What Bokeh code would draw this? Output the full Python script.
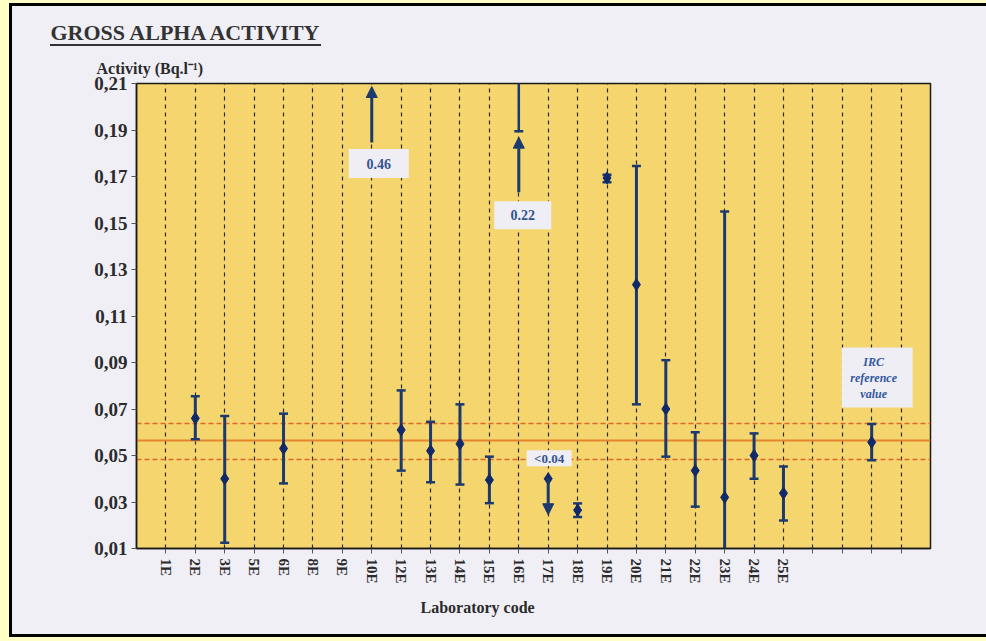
import math
from bokeh.plotting import figure
from bokeh.models import Range1d, FixedTicker, CustomJSTickFormatter, Arrow, NormalHead, Title
from bokeh.embed import file_html
from bokeh.resources import INLINE
from bokeh.core.properties import value

# ---------------- data ----------------
lab_codes = ["1E", "2E", "3E", "5E", "6E", "8E", "9E", "10E", "12E", "13E", "14E",
             "15E", "16E", "17E", "18E", "19E", "20E", "21E", "22E", "23E", "24E", "25E",
             "", "", "", ""]
irc_slot = 25  # position of the IRC reference value on the axis

meas_labs = ["2E", "3E", "6E", "12E", "13E", "14E", "15E", "18E", "19E", "20E",
             "21E", "22E", "23E", "24E", "25E"]
meas_val = [0.066, 0.040, 0.053, 0.061, 0.052, 0.055, 0.0395, 0.0265, 0.1694, 0.1235,
            0.070, 0.0435, 0.032, 0.050, 0.0338]
meas_low = [0.057, 0.0125, 0.038, 0.0435, 0.0385, 0.0375, 0.0295, 0.0235, 0.1675, 0.072,
            0.0495, 0.028, 0.0, 0.040, 0.022]
meas_high = [0.0755, 0.067, 0.068, 0.078, 0.0645, 0.072, 0.0495, 0.0294, 0.1708, 0.1745,
             0.091, 0.060, 0.155, 0.0595, 0.0453]

irc_val, irc_low, irc_high = 0.0557, 0.048, 0.0636
ref_value, ref_low, ref_high = 0.0565, 0.0484, 0.0638

off_labs = ["10E", "16E"]          # values above the scale
off_vals = [0.46, 0.22]
off_low = [None, 0.1895]
lt_lab, lt_val = "17E", 0.04       # "less than" result

y_ticks = [0.01, 0.03, 0.05, 0.07, 0.09, 0.11, 0.13, 0.15, 0.17, 0.19, 0.21]

# ---------------- styles ----------------
NAVY = "#1C3A6E"
TXT = "#2b2b2b"
BOXC = "#EEEEF4"
SERIF = "Liberation Serif"

pos = {lab: i + 1 for i, lab in enumerate(lab_codes) if lab}
Y0, Y1 = 0.01, 0.21
X0, X1 = 0, len(lab_codes) + 1

p = figure(width=977, height=634, output_backend="svg", toolbar_location=None,
           x_range=Range1d(X0, X1), y_range=Range1d(Y0, Y1),
           min_border_left=127, min_border_right=56, min_border_top=80, min_border_bottom=89)
p.background_fill_color = "#F5D56E"
p.border_fill_color = None
p.outline_line_color = "#1a1a1a"
p.outline_line_width = 1.5
BLK = "linear-gradient(#000000, #000000)"
p.styles = {
    "margin-left": "9px",
    "margin-top": "3px",
    "box-shadow": "0 0 0 30px #FFFFC6",
    "background": (BLK + " 0 0 / 3px 100% no-repeat, "
                   + BLK + " 0 0 / 100% 3px no-repeat, "
                   + BLK + " 0 100% / 100% 3px no-repeat, "
                   + "linear-gradient(#333333, #333333) 41px 41px / 271px 2px no-repeat, #F1EFF6"),
}

# helpers converting reference pixel offsets to data units (for decoration placement)
FW, FH = 794.0, 465.0
def dx(px):
    return px * (X1 - X0) / FW
def dy(px):
    return px * (Y1 - Y0) / FH

# titles (the title added later sits closer to the frame)
p.title.text = "GROSS ALPHA ACTIVITY"
p.title.align = "left"
p.title.offset = -86
p.title.standoff = 11
p.title.text_font = SERIF
p.title.text_font_style = "bold"
p.title.text_font_size = "22px"
p.title.text_color = "#333333"
p.add_layout(Title(text="Activity (Bq.l⁻¹)", align="left", offset=-40, standoff=14,
                   text_font=SERIF, text_font_style="bold", text_font_size="16px",
                   text_color=TXT), "above")

# axes
p.xaxis.ticker = FixedTicker(ticks=list(range(1, len(lab_codes) + 1)))
p.xaxis.major_label_overrides = {i + 1: lab for i, lab in enumerate(lab_codes)}
p.xaxis.major_label_orientation = -math.pi / 2
p.xaxis.major_label_text_font = SERIF
p.xaxis.major_label_text_font_style = "bold"
p.xaxis.major_label_text_font_size = "15px"
p.xaxis.major_label_text_color = TXT
p.xaxis.major_label_standoff = 5
p.xaxis.major_tick_in = 0
p.xaxis.major_tick_out = 5
p.xaxis.minor_tick_line_color = None
p.xaxis.axis_line_width = 1.5
p.xaxis.axis_line_color = "#1a1a1a"
p.xaxis.major_tick_line_color = "#555555"
p.add_layout(Title(text="Laboratory code", align="left", offset=284, standoff=20,
                   text_font=SERIF, text_font_style="bold", text_font_size="16px",
                   text_color=TXT), "below")

p.yaxis.ticker = FixedTicker(ticks=y_ticks)
p.yaxis.formatter = CustomJSTickFormatter(code="return tick.toFixed(2).replace('.', ',');")
p.yaxis.major_label_text_font = SERIF
p.yaxis.major_label_text_font_style = "bold"
p.yaxis.major_label_text_font_size = "19px"
p.yaxis.major_label_text_color = TXT
p.yaxis.major_label_standoff = 4
p.yaxis.major_tick_in = 0
p.yaxis.major_tick_out = 5
p.yaxis.minor_tick_line_color = None
p.yaxis.axis_line_width = 1.5
p.yaxis.axis_line_color = "#1a1a1a"
p.yaxis.major_tick_line_color = "#555555"

p.ygrid.visible = False
p.xgrid.ticker = FixedTicker(ticks=list(range(1, len(lab_codes) + 1)))
p.xgrid.grid_line_color = "#2a2a2a"
p.xgrid.grid_line_dash = "4 4"
p.xgrid.grid_line_width = 1.2

# reference value lines
p.hspan(y=[ref_value], line_color="#E6862C", line_width=2)
p.hspan(y=[ref_low, ref_high], line_color="#E0682A", line_width=1.6, line_dash="5 3")

# error bars of measured labs
mx = [pos[l] for l in meas_labs] + [irc_slot]
mv = meas_val + [irc_val]
ml = meas_low + [irc_low]
mh = meas_high + [irc_high]
cap = dx(4.5)
p.segment(x0=mx, y0=ml, x1=mx, y1=mh, line_color=NAVY, line_width=3)
p.segment(x0=[x - cap for x in mx], y0=mh, x1=[x + cap for x in mx], y1=mh, line_color=NAVY, line_width=2.5)
p.segment(x0=[x - cap for x in mx], y0=ml, x1=[x + cap for x in mx], y1=ml, line_color=NAVY, line_width=2.5)
p.scatter(x=mx, y=mv, marker="diamond", size=12, fill_color="#10296A", line_color="#10296A")

# 16E: lower error bound visible, rest above scale
x16 = pos["16E"]
p.segment(x0=[x16], y0=[off_low[1]], x1=[x16], y1=[Y1 + 0.05], line_color=NAVY, line_width=2.5)
p.segment(x0=[x16 - cap], y0=[off_low[1]], x1=[x16 + cap], y1=[off_low[1]], line_color=NAVY, line_width=2.5)

# arrows for off-scale values
x10 = pos["10E"]
p.add_layout(Arrow(end=NormalHead(size=11, fill_color=NAVY, line_color=NAVY),
                   x_start=x10, y_start=Y1 - dy(59), x_end=x10, y_end=Y1 - dy(3),
                   line_color=NAVY, line_width=3))
p.add_layout(Arrow(end=NormalHead(size=11, fill_color=NAVY, line_color=NAVY),
                   x_start=x16, y_start=off_low[1] - dy(61), x_end=x16, y_end=off_low[1] - dy(6),
                   line_color=NAVY, line_width=3))

# 17E: less-than value, arrow pointing down
x17 = pos[lt_lab]
p.add_layout(Arrow(end=NormalHead(size=11, fill_color=NAVY, line_color=NAVY),
                   x_start=x17, y_start=lt_val, x_end=x17, y_end=lt_val - dy(36),
                   line_color=NAVY, line_width=3))
p.scatter(x=[x17], y=[lt_val], marker="diamond", size=12, fill_color="#10296A", line_color="#10296A")

# value boxes
def value_box(xc, yc, w, h, txt, size="14px"):
    p.quad(left=[xc - dx(w) / 2], right=[xc + dx(w) / 2], top=[yc + dy(h) / 2], bottom=[yc - dy(h) / 2],
           fill_color=BOXC, line_color=None)
    p.text(x=[xc], y=[yc], text=[txt], text_align="center", text_baseline="middle",
           text_font=value(SERIF), text_font_style="bold", text_font_size=size, text_color="#34548E")

value_box(x10 + dx(7), Y1 - dy(80), 60, 29, "%.2f" % off_vals[0])
value_box(x16 + dx(4), off_low[1] - dy(84), 57, 28, "%.2f" % off_vals[1])
value_box(x17 + dx(1), ref_low + dy(1), 45, 16, "<%.2f" % lt_val, size="13px")

# IRC reference value box
p.quad(left=[irc_slot - dx(30)], right=[irc_slot + dx(41)], top=[Y1 - dy(264)], bottom=[Y1 - dy(324)],
       fill_color=BOXC, line_color=None)
p.text(x=[irc_slot + dx(2)] * 3, y=[Y1 - dy(278), Y1 - dy(294), Y1 - dy(310)],
       text=["IRC", "reference", "value"], text_align="center", text_baseline="middle",
       text_font=value(SERIF), text_font_style="bold italic", text_font_size="12px", text_color="#3558A0")

open("out.html", "w").write(file_html(p, INLINE))
